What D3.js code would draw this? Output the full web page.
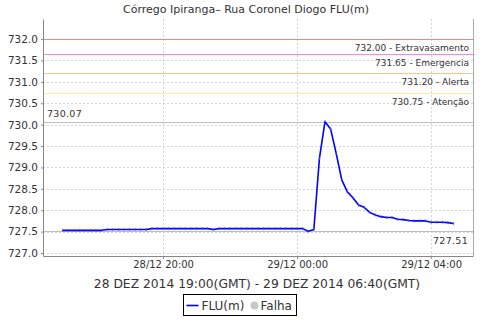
<!DOCTYPE html>
<html>
<head>
<meta charset="utf-8">
<script src="https://cdn.jsdelivr.net/npm/d3@7"></script>
<style>
  body { margin: 0; background: #fff; }
  svg text { font-family: "DejaVu Sans", sans-serif; fill: #333; }
</style>
</head>
<body>
<script>
// readings every 10 minutes, local time (axis), title in GMT
var times = [
  '28/12 17:00','28/12 17:10','28/12 17:20','28/12 17:30','28/12 17:40','28/12 17:50',
  '28/12 18:00','28/12 18:10','28/12 18:20','28/12 18:30','28/12 18:40','28/12 18:50',
  '28/12 19:00','28/12 19:10','28/12 19:20','28/12 19:30','28/12 19:40','28/12 19:50',
  '28/12 20:00','28/12 20:10','28/12 20:20','28/12 20:30','28/12 20:40','28/12 20:50',
  '28/12 21:00','28/12 21:10','28/12 21:20','28/12 21:30','28/12 21:40','28/12 21:50',
  '28/12 22:00','28/12 22:10','28/12 22:20','28/12 22:30','28/12 22:40','28/12 22:50',
  '28/12 23:00','28/12 23:10','28/12 23:20','28/12 23:30','28/12 23:40','28/12 23:50',
  '29/12 00:00','29/12 00:10','29/12 00:20','29/12 00:30','29/12 00:40','29/12 00:50',
  '29/12 01:00','29/12 01:10','29/12 01:20','29/12 01:30','29/12 01:40','29/12 01:50',
  '29/12 02:00','29/12 02:10','29/12 02:20','29/12 02:30','29/12 02:40','29/12 02:50',
  '29/12 03:00','29/12 03:10','29/12 03:20','29/12 03:30','29/12 03:40','29/12 03:50',
  '29/12 04:00','29/12 04:10','29/12 04:20','29/12 04:30','29/12 04:40'
];
var flu = [
  727.53,727.53,727.53,727.53,727.53,727.53,
  727.53,727.53,727.55,727.55,727.55,727.55,
  727.55,727.55,727.55,727.55,727.57,727.57,
  727.57,727.57,727.57,727.57,727.57,727.57,
  727.57,727.57,727.57,727.55,727.57,727.57,
  727.57,727.57,727.57,727.57,727.57,727.57,
  727.57,727.57,727.57,727.57,727.57,727.57,
  727.57,727.57,727.51,727.55,729.21,730.07,
  729.90,729.33,728.71,728.43,728.29,728.12,
  728.07,727.95,727.89,727.85,727.83,727.83,
  727.79,727.78,727.76,727.75,727.75,727.75,
  727.72,727.72,727.72,727.71,727.69
];

var levels = [732.00, 731.65, 731.20, 730.75];
var levelNames = ['Extravasamento', 'Emergencia', 'Alerta', 'Atenção'];
var levelColors = ['#e08a8a', '#ff80ff', '#f5c596', '#f7eba6'];

var xTicks = ['28/12 20:00', '29/12 00:00', '29/12 04:00'];
var yTicks = [727.0, 727.5, 728.0, 728.5, 729.0, 729.5, 730.0, 730.5, 731.0, 731.5, 732.0];

var title = 'Córrego Ipiranga– Rua Coronel Diogo FLU(m)';
var period = '28 DEZ 2014 19:00(GMT) - 29 DEZ 2014 06:40(GMT)';

var svgWidth = 480, svgHeight = 320;
var margin = { top: 19, left: 43, right: 7, bottom: 64 };
var chartWidth = svgWidth - margin.left - margin.right;
var chartHeight = svgHeight - margin.top - margin.bottom;

var parseTime = d3.timeParse('%d/%m/%Y %H:%M');
var data = times.map(function(t, i) {
  return { date: parseTime(t.slice(0, 5) + '/2014' + t.slice(5)), value: flu[i] };
});

var svg = d3.select('body').append('svg')
  .attr('width', svgWidth)
  .attr('height', svgHeight);

svg.append('text')
  .attr('x', 246)
  .attr('y', 13)
  .attr('text-anchor', 'middle')
  .style('font-size', '11px')
  .text(title);

var chart = svg.append('g')
  .attr('transform', 'translate(' + margin.left + ',' + margin.top + ')');

// time domain with a 5% margin on both sides
var ext = d3.extent(data, function(d) { return d.date; });
var pad = (ext[1] - ext[0]) * 0.05;
var xScale = d3.scaleTime()
  .domain([new Date(+ext[0] - pad), new Date(+ext[1] + pad)])
  .range([0, chartWidth]);
var yScale = d3.scaleLinear()
  .domain([726.93, 732.47])
  .range([chartHeight, 0]);

var tickDates = xTicks.map(function(t) { return parseTime(t.slice(0, 5) + '/2014' + t.slice(5)); });

// dashed grid
chart.append('g').selectAll('line').data(yTicks).enter().append('line')
  .attr('x1', 0).attr('x2', chartWidth)
  .attr('y1', function(d) { return Math.round(yScale(d)) + 0.5; })
  .attr('y2', function(d) { return Math.round(yScale(d)) + 0.5; })
  .attr('stroke', '#d6d6d6').attr('stroke-dasharray', '2,2');
chart.append('g').selectAll('line').data(tickDates).enter().append('line')
  .attr('x1', function(d) { return Math.round(xScale(d)) + 0.5; })
  .attr('x2', function(d) { return Math.round(xScale(d)) + 0.5; })
  .attr('y1', 0).attr('y2', chartHeight)
  .attr('stroke', '#d6d6d6').attr('stroke-dasharray', '2,2');

// max / min markers
var maxV = d3.max(flu), minV = d3.min(flu);
[maxV, minV].forEach(function(v) {
  chart.append('line')
    .attr('x1', 0).attr('x2', chartWidth)
    .attr('y1', Math.round(yScale(v)) + 0.5).attr('y2', Math.round(yScale(v)) + 0.5)
    .attr('stroke', '#bdbdbd');
});
chart.append('text')
  .attr('x', 4).attr('y', yScale(maxV) - 5)
  .style('font-size', '9.5px').style('letter-spacing', '0.3px')
  .text(maxV.toFixed(2));
chart.append('text')
  .attr('x', chartWidth - 5).attr('y', yScale(minV) + 13)
  .attr('text-anchor', 'end')
  .style('font-size', '9.5px').style('letter-spacing', '0.3px')
  .text(minV.toFixed(2));

// alarm levels
chart.append('g').selectAll('line').data(levels).enter().append('line')
  .attr('x1', 0).attr('x2', chartWidth)
  .attr('y1', function(d) { return Math.round(yScale(d)) + 0.5; })
  .attr('y2', function(d) { return Math.round(yScale(d)) + 0.5; })
  .attr('stroke', function(d, i) { return levelColors[i]; })
  .attr('stroke-width', 1.2);
chart.append('g').selectAll('text').data(levels).enter().append('text')
  .attr('x', chartWidth - 4)
  .attr('y', function(d) { return yScale(d) + 12; })
  .attr('text-anchor', 'end')
  .style('font-size', '9px')
  .text(function(d, i) { return d.toFixed(2) + ' - ' + levelNames[i]; });

// series
var line = d3.line()
  .x(function(d) { return xScale(d.date); })
  .y(function(d) { return yScale(d.value); });
chart.append('path')
  .datum(data)
  .attr('d', line)
  .attr('fill', 'none')
  .attr('stroke', '#0000ff')
  .attr('stroke-width', 1.6)
  .attr('stroke-linejoin', 'round');
chart.append('g').selectAll('line').data(data).enter().append('line')
  .attr('x1', function(d) { return xScale(d.date); })
  .attr('x2', function(d) { return xScale(d.date); })
  .attr('y1', function(d) { return yScale(d.value) - 1.5; })
  .attr('y2', function(d) { return yScale(d.value) + 1.5; })
  .attr('stroke', '#4a4aff').attr('stroke-width', 0.8);

// axes
var leftAxis = d3.axisLeft(yScale).tickValues(yTicks)
  .tickFormat(d3.format('.1f')).tickSizeInner(2).tickSizeOuter(0).tickPadding(3);
var bottomAxis = d3.axisBottom(xScale).tickValues(tickDates)
  .tickFormat(d3.timeFormat('%d/%m %H:%M')).tickSizeInner(3).tickSizeOuter(0).tickPadding(2);

var gy = chart.append('g').call(leftAxis);
gy.selectAll('text').style('font-size', '10.5px').style('fill', '#333');
var gx = chart.append('g').attr('transform', 'translate(0,' + chartHeight + ')').call(bottomAxis);
gx.selectAll('text').style('font-size', '10px').style('fill', '#333');
chart.selectAll('.domain').attr('stroke', '#888');
chart.selectAll('.tick line').attr('stroke', '#888');

chart.append('line')
  .attr('x1', chartWidth + 0.5).attr('x2', chartWidth + 0.5)
  .attr('y1', 0).attr('y2', chartHeight)
  .attr('stroke', '#aaa');

svg.append('text')
  .attr('x', 257).attr('y', 288)
  .attr('text-anchor', 'middle')
  .style('font-size', '12.3px')
  .text(period);

// legend
var legend = svg.append('g').attr('transform', 'translate(183.5,294.5)');
legend.append('rect').attr('width', 113).attr('height', 21)
  .attr('fill', '#fff').attr('stroke', '#000');
legend.append('line').attr('x1', 3).attr('x2', 15).attr('y1', 11).attr('y2', 11)
  .attr('stroke', '#0000ff').attr('stroke-width', 1.6);
legend.append('text').attr('x', 18).attr('y', 15.5).style('font-size', '12px').text('FLU(m)');
legend.append('circle').attr('cx', 71).attr('cy', 11).attr('r', 4).attr('fill', '#c8c8c8');
legend.append('text').attr('x', 77).attr('y', 15.5).style('font-size', '12px').text('Falha');
</script>
</body>
</html>
